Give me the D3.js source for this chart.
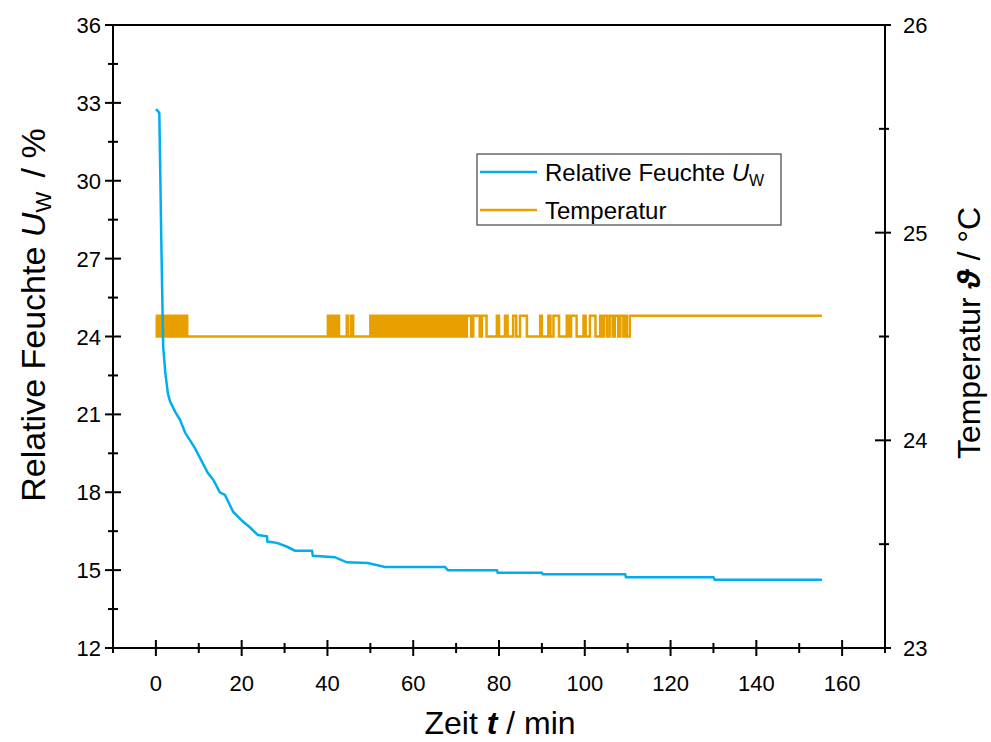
<!DOCTYPE html>
<html><head><meta charset="utf-8">
<script src="https://cdn.jsdelivr.net/npm/d3@7"></script>
<style>body{margin:0;background:#fff}svg{display:block}text{font-family:"Liberation Sans",Arial,sans-serif;fill:#000}</style>
</head><body>
<svg id="c" width="991" height="742"></svg>
<script>
// time t (min), relative humidity (%)
const humT = [0,0.4,0.8,1.0,1.3,1.7,2.2,2.8,3.3,4.5,5.6,6.8,9.1,12.1,13.5,14.9,16.1,18.0,20.1,21.9,23.8,25.9,26.0,28.2,30.6,32.4,36.4,36.6,41.7,44.5,49.4,53.4,67.4,68.1,79.5,79.7,90.0,90.2,109.4,109.6,130.0,130.3,155.3];
const humV = [32.75,32.7,32.6,30.5,27.3,23.6,22.6,21.8,21.5,21.1,20.8,20.3,19.7,18.75,18.45,18.0,17.9,17.25,16.9,16.65,16.35,16.3,16.1,16.05,15.9,15.75,15.75,15.55,15.5,15.3,15.27,15.12,15.12,15.0,15.0,14.9,14.9,14.84,14.84,14.73,14.73,14.63,14.63];
// temperature step changes: time (min), value (°C)
const tmpT = [0,0.2,0.4,0.7,0.9,1.2,1.4,1.7,1.9,2.2,2.4,2.7,2.9,3.3,3.5,3.8,4.0,4.4,4.6,5.0,5.2,5.6,5.8,6.2,6.4,6.8,7.0,7.3,
  40.1,40.4,40.8,41.2,41.5,41.8,42.3,42.7,44.5,44.8,45.5,46.0,
  50.0,50.3,50.6,51.0,51.3,51.8,52.1,52.6,52.9,53.4,53.7,54.2,54.5,55.0,55.3,55.7,56.0,56.5,56.8,57.2,57.5,58.0,58.3,58.8,59.1,59.6,59.9,60.3,60.6,61.1,61.4,61.9,62.2,62.6,62.9,63.4,63.7,64.2,64.5,64.9,65.2,65.7,66.0,66.5,66.8,67.3,67.6,68.0,68.3,68.8,69.1,69.6,69.9,70.4,70.7,71.2,71.5,72.0,72.5,
  73.5,74.0,75.5,76.0,77.1,79.5,80.0,81.4,82.0,83.3,84.0,84.9,86.5,89.6,90.0,91.5,92.0,92.7,94.0,95.8,96.3,96.8,98.1,99.7,100.2,101.2,102.5,103.6,104.0,104.5,105.2,105.8,106.5,107.0,107.8,108.3,109.0,109.4,109.8,110.5,155.3];
const tmpV = [24.6,24.5,24.6,24.5,24.6,24.5,24.6,24.5,24.6,24.5,24.6,24.5,24.6,24.5,24.6,24.5,24.6,24.5,24.6,24.5,24.6,24.5,24.6,24.5,24.6,24.5,24.6,24.5,
  24.6,24.5,24.6,24.5,24.6,24.5,24.6,24.5,24.6,24.5,24.6,24.5,
  24.6,24.5,24.6,24.5,24.6,24.5,24.6,24.5,24.6,24.5,24.6,24.5,24.6,24.5,24.6,24.5,24.6,24.5,24.6,24.5,24.6,24.5,24.6,24.5,24.6,24.5,24.6,24.5,24.6,24.5,24.6,24.5,24.6,24.5,24.6,24.5,24.6,24.5,24.6,24.5,24.6,24.5,24.6,24.5,24.6,24.5,24.6,24.5,24.6,24.5,24.6,24.5,24.6,24.5,24.6,24.5,24.6,24.5,24.6,
  24.5,24.6,24.5,24.6,24.5,24.6,24.5,24.6,24.5,24.6,24.5,24.6,24.5,24.6,24.5,24.6,24.5,24.6,24.5,24.6,24.5,24.6,24.5,24.6,24.5,24.6,24.5,24.6,24.5,24.6,24.5,24.6,24.5,24.6,24.5,24.6,24.5,24.6,24.5,24.6,24.6];
const xTicks = [0,20,40,60,80,100,120,140,160];
const yLeftTicks = [12,15,18,21,24,27,30,33,36];
const yRightTicks = [23,24,25,26];

const svg = d3.select("#c");
const L=113, R=885, T=25, B=648;
const x = d3.scaleLinear().domain([-10,170]).range([L,R]);
const yL = d3.scaleLinear().domain([12,36]).range([B,T]);
const yR = d3.scaleLinear().domain([23,26]).range([B,T]);
const blue="#00AEEF", orange="#E8A000";

svg.append("clipPath").attr("id","clip").append("rect").attr("x",L).attr("y",T).attr("width",R-L).attr("height",B-T);
const plot = svg.append("g").attr("clip-path","url(#clip)");

const tmpData = tmpT.map((t,i)=>[t,tmpV[i]]);
plot.append("path").datum(tmpData).attr("fill","none").attr("stroke",orange).attr("stroke-width",2.5)
  .attr("d", d3.line().x(d=>x(d[0])).y(d=>yR(d[1])).curve(d3.curveStepAfter));
const humData = humT.map((t,i)=>[t,humV[i]]);
plot.append("path").datum(humData).attr("fill","none").attr("stroke",blue).attr("stroke-width",2.5)
  .attr("d", d3.line().x(d=>x(d[0])).y(d=>yL(d[1])));

// frame
svg.append("line").attr("x1",L).attr("x2",R).attr("y1",T).attr("y2",T).attr("stroke","#000").attr("stroke-width",2);

// bottom axis
const minorX = d3.range(-10,171,10);
const gx = svg.append("g").attr("transform",`translate(0,${B})`);
gx.append("line").attr("x1",L).attr("x2",R).attr("stroke","#000").attr("stroke-width",2);
gx.selectAll("line.t").data(minorX).join("line").attr("class","t")
  .attr("x1",d=>x(d)).attr("x2",d=>x(d))
  .attr("y1",d=>xTicks.includes(d)?-8:-5).attr("y2",d=>xTicks.includes(d)?8:5)
  .attr("stroke","#000").attr("stroke-width",2);
gx.selectAll("text").data(xTicks).join("text").attr("x",d=>x(d)).attr("y",43)
  .attr("text-anchor","middle").attr("font-size",22).text(d=>d);

// left axis
const minorL = d3.range(12,36.01,1.5);
const gl = svg.append("g").attr("transform",`translate(${L},0)`);
gl.append("line").attr("y1",T).attr("y2",B).attr("stroke","#000").attr("stroke-width",2);
gl.selectAll("line.t").data(minorL).join("line").attr("class","t")
  .attr("y1",d=>yL(d)).attr("y2",d=>yL(d))
  .attr("x1",d=>yLeftTicks.includes(d)?-8:-5).attr("x2",d=>yLeftTicks.includes(d)?8:5)
  .attr("stroke","#000").attr("stroke-width",2);
gl.selectAll("text").data(yLeftTicks).join("text").attr("x",-12).attr("y",d=>yL(d)+8)
  .attr("text-anchor","end").attr("font-size",22).text(d=>d);

// right axis
const minorR = d3.range(23,26.01,0.5);
const gr = svg.append("g").attr("transform",`translate(${R},0)`);
gr.append("line").attr("y1",T).attr("y2",B).attr("stroke","#000").attr("stroke-width",2);
gr.selectAll("line.t").data(minorR).join("line").attr("class","t")
  .attr("y1",d=>yR(d)).attr("y2",d=>yR(d))
  .attr("x1",d=>yRightTicks.includes(d)?-10:-6).attr("x2",d=>yRightTicks.includes(d)?6:4)
  .attr("stroke","#000").attr("stroke-width",2);
gr.selectAll("text").data(yRightTicks).join("text").attr("x",18).attr("y",d=>yR(d)+8)
  .attr("text-anchor","start").attr("font-size",22).text(d=>d);

// axis titles
const xt = svg.append("text").attr("x",500).attr("y",734).attr("text-anchor","middle").attr("font-size",32);
xt.append("tspan").text("Zeit ");
xt.append("tspan").attr("font-style","italic").attr("font-weight","bold").text("t");
xt.append("tspan").text(" / min");

const lt = svg.append("text").attr("transform",`translate(45,315) rotate(-90)`).attr("text-anchor","middle").attr("font-size",34);
lt.append("tspan").text("Relative Feuchte ");
lt.append("tspan").attr("font-style","italic").text("U");
lt.append("tspan").attr("font-size",22).attr("dy",6).text("W");
lt.append("tspan").attr("dy",-6).attr("dx",5).text(" / %");

const rt = svg.append("text").attr("transform",`translate(980,333) rotate(-90)`).attr("text-anchor","middle").attr("font-size",32);
rt.append("tspan").text("Temperatur ");
rt.append("tspan").attr("font-style","italic").attr("font-weight","bold").text("ϑ");
rt.append("tspan").text(" / °C");

// legend
const lg = svg.append("g");
lg.append("rect").attr("x",477).attr("y",154).attr("width",304).attr("height",71).attr("fill","#fff").attr("stroke","#444").attr("stroke-width",1.2);
lg.append("line").attr("x1",480).attr("x2",537).attr("y1",172).attr("y2",172).attr("stroke",blue).attr("stroke-width",2.5);
lg.append("line").attr("x1",480).attr("x2",537).attr("y1",210).attr("y2",210).attr("stroke",orange).attr("stroke-width",2.5);
const l1 = lg.append("text").attr("x",545).attr("y",181).attr("font-size",24);
l1.append("tspan").text("Relative Feuchte ");
l1.append("tspan").attr("font-style","italic").text("U");
l1.append("tspan").attr("font-size",16).attr("dy",5).text("W");
lg.append("text").attr("x",545).attr("y",219).attr("font-size",24).text("Temperatur");
</script>
</body></html>
